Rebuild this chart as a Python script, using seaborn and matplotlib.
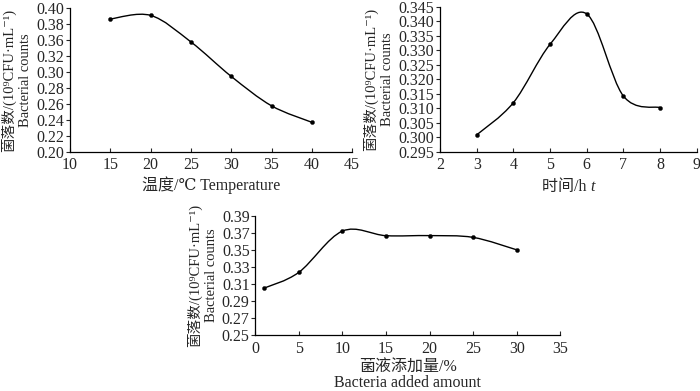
import numpy as np
import pandas as pd
import matplotlib
matplotlib.use("Agg")
import matplotlib.pyplot as plt
from matplotlib.path import Path
from matplotlib.patches import PathPatch
import seaborn as sns

# data
temp_x = [15, 20, 25, 30, 35, 40]
temp_y = [0.385, 0.390, 0.353, 0.305, 0.264, 0.241]

time_x = [3, 4, 5, 6, 7, 8]
time_y = [0.3008, 0.3119, 0.3320, 0.3425, 0.3142, 0.3102]

amount_x = [1, 5, 10, 15, 20, 25, 30]
amount_y = [0.305, 0.3236, 0.372, 0.3666, 0.3667, 0.3646, 0.350]

# first panel: the original labels skip 0.34 (10 evenly spaced ticks)
temp_yticklabels = ["0.20", "0.22", "0.24", "0.26", "0.28", "0.30", "0.32", "0.36", "0.38", "0.40"]

ylab = "菌落数/(10⁹CFU·mL⁻¹)\nBacterial counts"

FS = 11.5
FS_Y = 10.5

sns.set_theme(style="ticks")
plt.rcParams["font.family"] = ["Liberation Serif", "DejaVu Serif", "Noto Sans CJK SC"]
plt.rcParams["font.size"] = FS
plt.rcParams["axes.linewidth"] = 0.9


def smooth_path(xs, ys):
    # catmull-rom style bezier through the points (like a "smoothed line")
    pts = np.column_stack([xs, ys]).astype(float)
    n = len(pts)
    verts = [pts[0]]
    codes = [Path.MOVETO]
    for i in range(n - 1):
        p0 = pts[i - 1] if i > 0 else pts[i]
        p1 = pts[i]
        p2 = pts[i + 1]
        p3 = pts[i + 2] if i + 2 < n else pts[i + 1]
        c1 = p1 + (p2 - p0) / 6.0
        c2 = p2 - (p3 - p1) / 6.0
        verts += [c1, c2, p2]
        codes += [Path.CURVE4] * 3
    return Path(verts, codes)


def draw_panel(ax, xs, ys, xlim, xticks, ylim, yticks, yticklabels, xlabel):
    ax.add_patch(PathPatch(smooth_path(xs, ys), facecolor="none", edgecolor="black", lw=1.0))
    df = pd.DataFrame({"x": xs, "y": ys})
    sns.scatterplot(data=df, x="x", y="y", ax=ax, color="black", s=9, marker="o", edgecolor="black", zorder=3)
    ax.set_xlim(*xlim)
    ax.set_ylim(*ylim)
    ax.set_xticks(xticks)
    ax.set_yticks(yticks)
    ax.set_yticklabels(yticklabels)
    ax.tick_params(axis="x", direction="in", length=3, width=0.8, pad=4, labelsize=FS)
    ax.tick_params(axis="y", direction="out", length=3, width=0.8, pad=1, labelsize=FS)
    ax.set_xlabel(xlabel, fontsize=FS, labelpad=2, linespacing=1.0)
    ax.set_ylabel(ylab, fontsize=FS_Y, labelpad=3, linespacing=1.3)
    sns.despine(ax=ax)
    for s in ["left", "bottom"]:
        ax.spines[s].set_color("black")


fig = plt.figure(figsize=(7, 3.91), dpi=100)

ax1 = fig.add_axes([0.100, 0.612, 0.403, 0.367])
draw_panel(ax1, temp_x, temp_y, (10, 45), list(range(10, 46, 5)),
           (0.20, 0.40), np.linspace(0.20, 0.40, 10), temp_yticklabels,
           "温度/℃ Temperature")

ax2 = fig.add_axes([0.6286, 0.612, 0.3667, 0.371])
t_ticks = np.round(np.arange(0.295, 0.3451, 0.005), 3)
draw_panel(ax2, time_x, time_y, (2, 9), list(range(2, 10)),
           (0.295, 0.345), t_ticks, [f"{v:.3f}" for v in t_ticks],
           "")
# x label with italic t, split into two pieces
ax2.annotate("时间/h ", xy=(0.5, 0), xycoords="axes fraction", xytext=(16, -20),
             textcoords="offset points", ha="right", va="top", fontsize=FS)
ax2.annotate("t", xy=(0.5, 0), xycoords="axes fraction", xytext=(16, -20),
             textcoords="offset points", ha="left", va="top", fontsize=FS, style="italic")

ax3 = fig.add_axes([0.3647, 0.1432, 0.4357, 0.305])
a_ticks = np.round(np.arange(0.25, 0.391, 0.02), 2)
draw_panel(ax3, amount_x, amount_y, (0, 35), list(range(0, 36, 5)),
           (0.25, 0.39), a_ticks, [f"{v:.2f}" for v in a_ticks],
           "菌液添加量/%\nBacteria added amount")

fig.savefig("out.png", dpi=100)
